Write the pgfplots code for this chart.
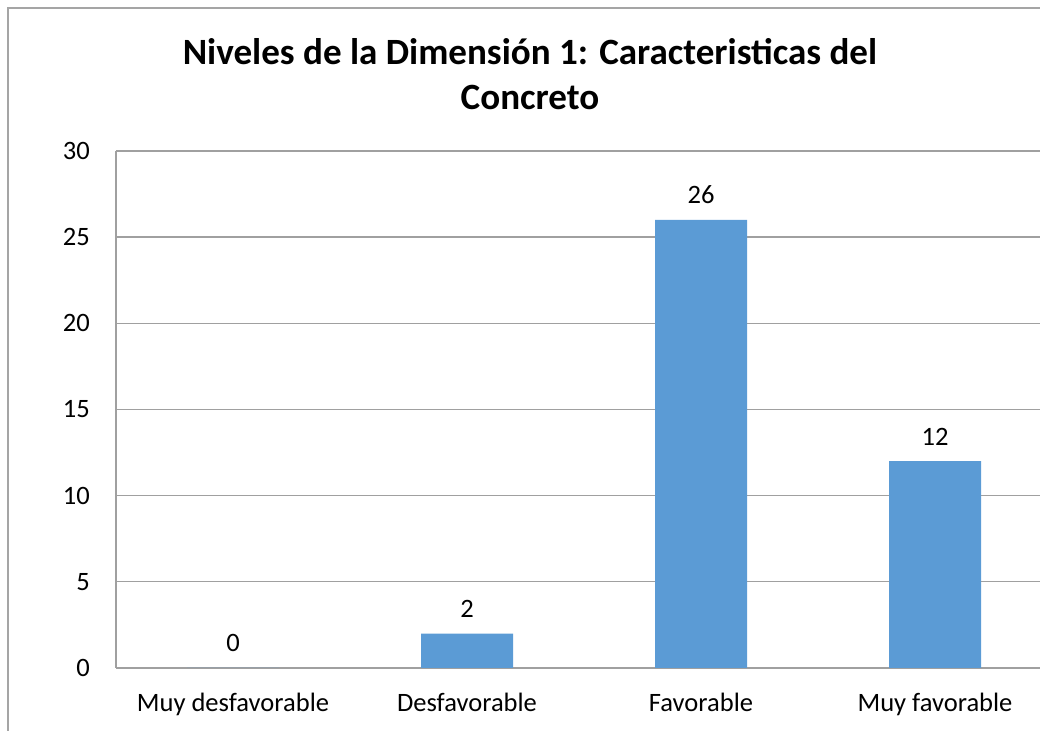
\documentclass[border=0pt]{standalone}
\usepackage{fontspec}
\setmainfont{Carlito}
\usepackage{pgfplots}
\pgfplotsset{compat=1.18}
\definecolor{barc}{RGB}{91,155,213}
\definecolor{gridc}{RGB}{160,160,160}
\definecolor{framec}{RGB}{165,165,165}
\newcommand\tickfont{\fontsize{19.9}{24}\selectfont}
\newcommand\titlefont{\fontsize{27.8}{33}\selectfont\bfseries}
\begin{document}
\begin{tikzpicture}[x=0.75pt,y=0.75pt]
% 1 unit = 1 px of the 1040x731 reference, y measured from the bottom
\useasboundingbox (0,0) rectangle (1040,731);
\draw[framec, line width=1pt] (8,-10) -- (8,723) -- (1050,723);
\node[font=\titlefont, anchor=base] at (530,666) {Niveles de la Dimensión 1: Caracteristicas del};
\node[font=\titlefont, anchor=base] at (530,621) {Concreto};
\begin{axis}[
  at={(87pt,47.25pt)}, anchor=south west,
  scale only axis, width=693pt, height=387.75pt,
  xmin=-0.5, xmax=3.4487, ymin=0, ymax=30,
  xtick={0,1,2,3},
  xticklabels={Muy desfavorable, Desfavorable, Favorable, Muy favorable},
  ytick={0,5,10,15,20,25,30},
  axis x line*=bottom, axis y line*=left,
  axis line style={-, gridc, line width=1pt},
  major tick length=0pt,
  ymajorgrids, grid style={gridc, line width=1pt},
  /pgf/number format/assume math mode=true,
  tick label style={font=\tickfont, text=black},
  x tick label style={anchor=base, inner sep=0pt, yshift=-33pt},
  y tick label style={anchor=east, inner sep=0pt, xshift=-19.5pt},
  ybar, bar width=69pt,
  nodes near coords,
  every node near coord/.append style={font=\tickfont, anchor=base, inner sep=0pt, yshift=12pt},
]
\addplot[fill=barc, draw=none] coordinates {(0,0) (1,2) (2,26) (3,12)};
\end{axis}
\end{tikzpicture}
\end{document}
